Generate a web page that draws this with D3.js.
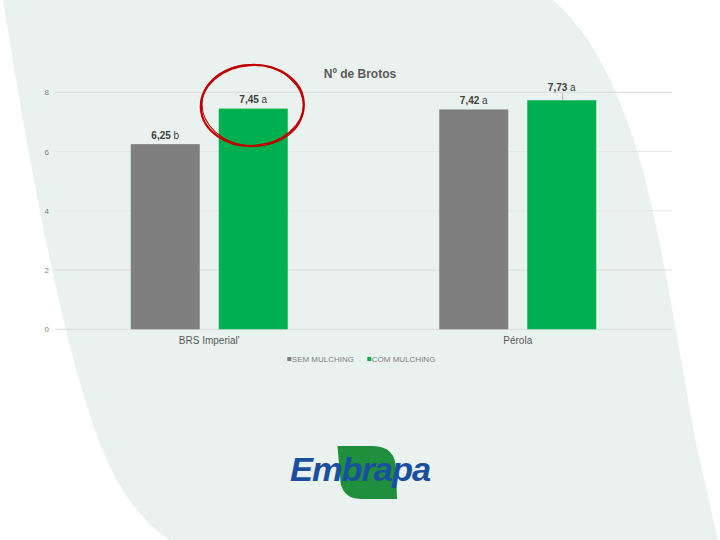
<!DOCTYPE html>
<html>
<head>
<meta charset="utf-8">
<script src="https://cdn.jsdelivr.net/npm/d3@7"></script>
<style>
  html, body { margin: 0; padding: 0; background: #ffffff; }
  svg { display: block; font-family: "Liberation Sans", Arial, sans-serif; }
</style>
</head>
<body>
<svg id="chart" width="720" height="540"></svg>
<script>
// ---- data ----
const title = "Nº de Brotos";
const categories = ["BRS Imperial'", "Pérola"];
const seriesNames = ["SEM MULCHING", "COM MULCHING"];
const semMulching = [6.25, 7.42];
const comMulching = [7.45, 7.73];
const semLetters = ["b", "a"];
const comLetters = ["a", "a"];
const yTicks = [0, 2, 4, 6, 8];

const colors = ["#7f7f7f", "#00b050"];
const values = [semMulching, comMulching];
const letters = [semLetters, comLetters];

const svg = d3.select("#chart");

// ---- slide background ----
svg.append("rect").attr("width", 720).attr("height", 540).attr("fill", "#ffffff");
svg.append("path")
  .attr("d", "M3,0 C30,170 60,330 95,430 C115,490 145,525 170,540 L718,540 L697,448 C682,370 660,220 634,140 C612,75 588,30 553,0 Z")
  .attr("fill", "#e9f2ef");

// ---- scales ----
const margin = { left: 55, right: 672, top: 92.3, bottom: 329.3 };
const y = d3.scaleLinear().domain([0, 8]).range([margin.bottom, margin.top]);
const x0 = d3.scaleBand().domain(categories).range([margin.left, margin.right]).padding(0);
const x1 = d3.scaleBand().domain(seriesNames).range([0, x0.bandwidth()])
  .paddingInner(0.216).paddingOuter(0.861);

// gridlines
const grid = svg.append("g");
grid.selectAll("line").data(yTicks).join("line")
  .attr("x1", margin.left).attr("x2", margin.right)
  .attr("y1", d => y(d)).attr("y2", d => y(d))
  .attr("stroke", d => (d === 4 || d === 6) ? "#e2e8e6" : "#d9dcdb")
  .attr("stroke-width", 1);

// y axis labels via d3 axis
const yAxis = d3.axisLeft(y).tickValues(yTicks).tickSize(0).tickPadding(0).tickFormat(d3.format("d"));
const gy = svg.append("g").attr("transform", "translate(49,0)").call(yAxis);
gy.select(".domain").remove();
gy.selectAll("text").attr("fill", "#808080").attr("font-size", 8)
  .attr("font-family", "'Liberation Sans', Arial, sans-serif");

// bars
const groups = svg.append("g").selectAll("g").data(categories).join("g")
  .attr("transform", d => `translate(${x0(d)},0)`);

groups.each(function(cat, ci) {
  const g = d3.select(this);
  seriesNames.forEach((s, si) => {
    const v = values[si][ci];
    g.append("rect")
      .attr("x", x1(s)).attr("width", x1.bandwidth())
      .attr("y", y(v)).attr("height", y(0) - y(v))
      .attr("fill", colors[si]);
  });
});

// value labels
const fmt = v => v.toFixed(2).replace(".", ",");
categories.forEach((cat, ci) => {
  seriesNames.forEach((s, si) => {
    const v = values[si][ci];
    const cx = x0(cat) + x1(s) + x1.bandwidth() / 2;
    // label moved up above the gridline (with leader line) when bar reaches close to it
    const moved = y(v) - y(8) < 10;
    const by = moved ? y(v) - 9 : y(v) - 5.5;
    const t = svg.append("text")
      .attr("x", cx).attr("y", by)
      .attr("text-anchor", "middle")
      .attr("font-size", 10)
      .attr("fill", "#404040");
    t.append("tspan").attr("font-weight", "bold").text(fmt(v));
    t.append("tspan").text(" " + letters[si][ci]);
    if (moved) {
      svg.append("line")
        .attr("x1", cx + 1).attr("x2", cx + 1)
        .attr("y1", by + 2).attr("y2", y(v))
        .attr("stroke", "#a6a6a6").attr("stroke-width", 0.8);
    }
  });
});

// x axis labels
const xAxis = d3.axisBottom(x0).tickSize(0).tickPadding(0);
const gx = svg.append("g").attr("transform", `translate(0,${margin.bottom + 8})`).call(xAxis);
gx.select(".domain").remove();
gx.selectAll("text").attr("fill", "#595959").attr("font-size", 10)
  .attr("font-family", "'Liberation Sans', Arial, sans-serif");

// title
svg.append("text").attr("x", 360).attr("y", 78.3).attr("text-anchor", "middle")
  .attr("font-size", 12).attr("font-weight", "bold").attr("fill", "#595959").text(title);

// legend
const legendX = [287.3, 367.3];
seriesNames.forEach((s, i) => {
  svg.append("rect").attr("x", legendX[i]).attr("y", 357).attr("width", 4).attr("height", 4).attr("fill", colors[i]);
  svg.append("text").attr("x", legendX[i] + 4.5).attr("y", 362).attr("font-size", 8)
    .attr("fill", "#7f7f7f").text(s);
});

// red highlight ellipse
svg.append("ellipse")
  .attr("cx", 252.3).attr("cy", 105.5).attr("rx", 51.5).attr("ry", 40.5)
  .attr("transform", "rotate(-3 252.3 105.5)")
  .attr("fill", "none").attr("stroke", "#c00000").attr("stroke-width", 2.2);
svg.append("ellipse")
  .attr("cx", 252.8).attr("cy", 105.3).attr("rx", 50.8).attr("ry", 40.8)
  .attr("transform", "rotate(4 252.8 105.3)")
  .attr("fill", "none").attr("stroke", "#c00000").attr("stroke-width", 1);

// Embrapa logo
svg.append("path")
  .attr("d", "M337.5,446 L373,446 Q396,446.5 396,470 L397,499 L361,499 Q340,498.5 340,476 Z")
  .attr("fill", "#1f8f3e");
svg.append("text").attr("x", 290).attr("y", 480.5)
  .attr("font-size", 33).attr("font-weight", "bold").attr("font-style", "italic")
  .attr("textLength", 140).attr("lengthAdjust", "spacingAndGlyphs")
  .attr("fill", "#1a4f9e").attr("letter-spacing", -1).text("Embrapa");
</script>
</body>
</html>
